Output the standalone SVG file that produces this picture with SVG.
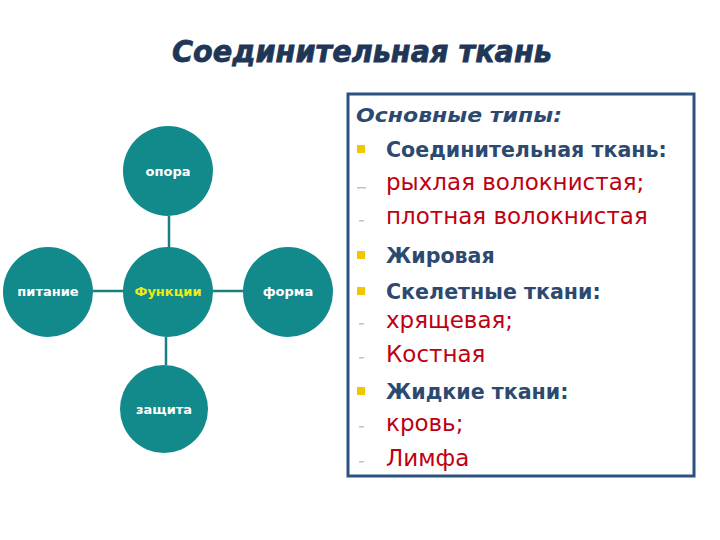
<svg xmlns="http://www.w3.org/2000/svg" width="720" height="540" viewBox="0 0 720 540">
<style>
.node{fill:#12898b}
.lbl{font-family:"DejaVu Sans",Verdana,sans-serif;font-weight:bold;font-size:13px;fill:#ffffff;text-anchor:middle}
.conn line{stroke:#1a7f80;stroke-width:2.5}
.hd{font-family:"DejaVu Sans",Verdana,sans-serif;font-weight:bold;font-size:20.6px;fill:#2c4a70}
.rd{font-family:"DejaVu Sans",Verdana,sans-serif;font-size:23px;fill:#c00010}
.sq{fill:#f0c800}
.ds{fill:#c9c3a0}
</style>
<rect width="720" height="540" fill="#ffffff"/>
<text x="172" y="62" font-family="'DejaVu Sans',Verdana,sans-serif" font-weight="bold" font-style="italic" font-size="31" fill="#1f3656" stroke="#1f3656" stroke-width="0.8" textLength="380" lengthAdjust="spacingAndGlyphs">Соединительная ткань</text>
<g class="conn">
<line x1="169" y1="216" x2="169" y2="247"/>
<line x1="93" y1="291" x2="123" y2="291"/>
<line x1="213" y1="291" x2="243" y2="291"/>
<line x1="166" y1="337" x2="166" y2="365"/>
</g>
<g id="opora"><circle class="node" cx="168" cy="171" r="45"/><text class="lbl" x="168" y="176">опора</text></g>
<g id="funkcii"><circle class="node" cx="168" cy="292" r="45"/><text class="lbl" x="168" y="296" style="fill:#ecec10">Функции</text></g>
<g id="pitanie"><circle class="node" cx="48" cy="292" r="45"/><text class="lbl" x="48" y="296">питание</text></g>
<g id="forma"><circle class="node" cx="288" cy="292" r="45"/><text class="lbl" x="288" y="296">форма</text></g>
<g id="zashchita"><circle class="node" cx="164" cy="409" r="44"/><text class="lbl" x="164" y="414">защита</text></g>
<g id="types">
<rect x="348" y="94" width="346" height="382" fill="#ffffff" stroke="#2c5282" stroke-width="3"/>
<text x="356" y="122" font-family="'DejaVu Sans',Verdana,sans-serif" font-weight="bold" font-style="italic" font-size="19" fill="#2c4a70" textLength="206" lengthAdjust="spacingAndGlyphs">Основные типы:</text>
<rect class="sq" x="357" y="145" width="8" height="8"/>
<text class="hd" x="386" y="157">Соединительная ткань:</text>
<rect class="ds" x="357" y="187" width="9" height="1.5"/>
<text class="rd" x="386" y="190">рыхлая волокнистая;</text>
<rect class="ds" x="359" y="220" width="5" height="1.5"/>
<text class="rd" x="386" y="224">плотная волокнистая</text>
<rect class="sq" x="357" y="251" width="8" height="8"/>
<text class="hd" x="386" y="263">Жировая</text>
<rect class="sq" x="357" y="287" width="8" height="8"/>
<text class="hd" x="386" y="299">Скелетные ткани:</text>
<rect class="ds" x="359" y="323" width="5" height="1.5"/>
<text class="rd" x="386" y="328">хрящевая;</text>
<rect class="ds" x="359" y="357" width="5" height="1.5"/>
<text class="rd" x="386" y="362">Костная</text>
<rect class="sq" x="357" y="387" width="8" height="8"/>
<text class="hd" x="386" y="399">Жидкие ткани:</text>
<rect class="ds" x="359" y="426" width="5" height="1.5"/>
<text class="rd" x="386" y="431">кровь;</text>
<rect class="ds" x="359" y="461" width="5" height="1.5"/>
<text class="rd" x="386" y="466">Лимфа</text>
</g>
</svg>
